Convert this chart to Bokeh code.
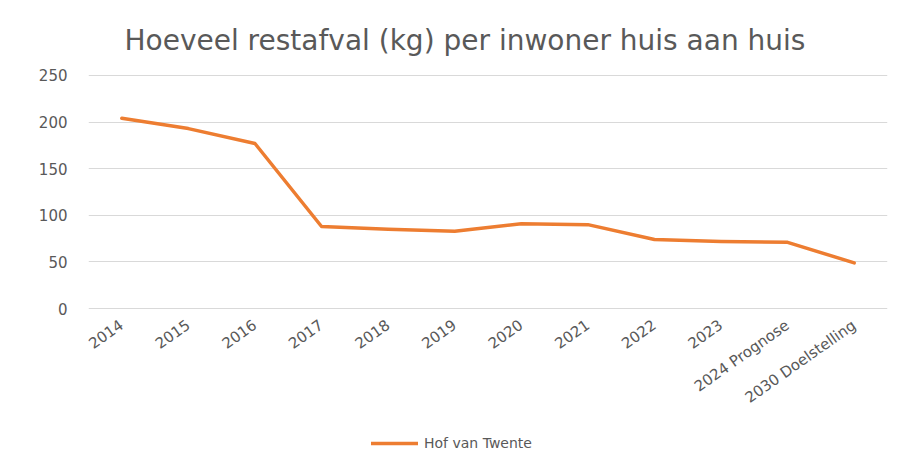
from bokeh.plotting import figure
from bokeh.layouts import column
from bokeh.models import Range1d, FactorRange, Legend, LegendItem
from bokeh.embed import file_html
from bokeh.resources import INLINE

title_text = "Hoeveel restafval (kg) per inwoner huis aan huis"
categories = ["2014", "2015", "2016", "2017", "2018", "2019", "2020", "2021",
              "2022", "2023", "2024 Prognose", "2030 Doelstelling"]
values = [204, 193, 177, 88, 85, 83, 91, 90, 74, 72, 71, 49]
series_name = "Hof van Twente"
y_ticks = [0, 50, 100, 150, 200, 250]

TEXT = "#595959"
FONT = "DejaVu Sans"
ORANGE = "#ED7D31"
LINE_W = 3.5

p = figure(frame_width=799, frame_height=235,
           x_range=FactorRange(*categories, range_padding=0, factor_padding=0),
           y_range=Range1d(-1, 251), output_backend="svg", toolbar_location=None,
           min_border_left=88, min_border_right=22, min_border_top=74, min_border_bottom=115)
p.outline_line_color = None
p.background_fill_color = "white"
p.border_fill_color = "white"

p.line(categories, values, line_color=ORANGE, line_width=LINE_W, line_join="round", line_cap="round")

p.title.text = title_text
p.title.align = "left"
p.title.offset = 36
p.title.standoff = 36
p.title.text_color = TEXT
p.title.text_font = FONT
p.title.text_font_size = "28px"
p.title.text_font_style = "normal"

p.xgrid.grid_line_color = None
p.ygrid.grid_line_color = "#D9D9D9"
p.ygrid.grid_line_width = 1
p.yaxis.ticker = y_ticks
for ax in (p.xaxis[0], p.yaxis[0]):
    ax.axis_line_color = None
    ax.major_tick_line_color = None
    ax.minor_tick_line_color = None
    ax.major_tick_out = 0
    ax.major_tick_in = 0
    ax.major_label_text_color = TEXT
    ax.major_label_text_font = FONT
p.yaxis.major_label_text_font_size = "15px"
p.xaxis.major_label_text_font_size = "15px"
p.yaxis.major_label_standoff = 21
p.xaxis.major_label_standoff = 14
p.xaxis.major_label_orientation = 0.615

# legend strip below the chart (frames are aligned with the chart above)
lg = figure(width=909, height=40, x_range=Range1d(0, 1), y_range=Range1d(0, 1),
            output_backend="svg", toolbar_location=None, x_axis_location=None, y_axis_location=None,
            min_border=0, min_border_left=0, min_border_right=0, min_border_top=0, min_border_bottom=0)
lg.outline_line_color = None
lg.xgrid.visible = False
lg.ygrid.visible = False
lg.background_fill_color = "white"
lg.border_fill_color = "white"
lr = lg.line(x=list(range(len(values))), y=values, line_color=ORANGE, line_width=LINE_W,
             line_cap="round", visible=False)
legend = Legend(items=[LegendItem(label=series_name, renderers=[lr])], location=(283, 13),
                padding=0, margin=0, spacing=0, glyph_width=47, glyph_height=16, label_height=16,
                label_standoff=6, label_text_color=TEXT, label_text_font=FONT,
                label_text_font_size="14px", border_line_color=None, background_fill_alpha=0,
                inactive_fill_alpha=0)
lg.add_layout(legend, "center")

layout = column(p, lg, spacing=0)
open("out.html", "w").write(file_html(layout, INLINE))
